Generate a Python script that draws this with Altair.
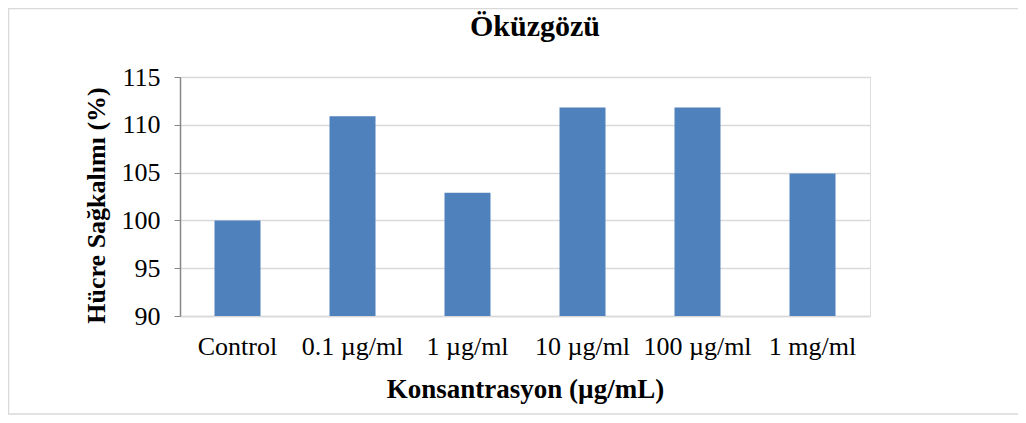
import altair as alt
import pandas as pd

categories = ["Control", "0.1 µg/ml", "1 µg/ml", "10 µg/ml", "100 µg/ml", "1 mg/ml"]
values = [100.0, 110.9, 102.9, 111.8, 111.8, 104.9]
y_ticks = [90, 95, 100, 105, 110, 115]
chart_title = "Öküzgözü"

df = pd.DataFrame({"cat": categories, "val": values})

FONT = "Liberation Serif"
W, H = 690, 239

bars = alt.Chart(df).mark_bar(color="#4F81BD", clip=True).encode(
    x=alt.X(
        "cat:N",
        sort=categories,
        scale=alt.Scale(paddingInner=0.6, paddingOuter=0.3),
        axis=alt.Axis(
            title="Konsantrasyon (µg/mL)",
            labelAngle=0,
            labelFont=FONT,
            labelFontSize=26,
            labelColor="#000000",
            labelPadding=17,
            labelBaseline="top",
            ticks=False,
            domainColor="#D9D9D9",
            domainWidth=1.5,
            titleFont=FONT,
            titleFontSize=27,
            titleFontWeight="bold",
            titleColor="#000000",
            titleBaseline="alphabetic",
            titleY=81,
        ),
    ),
    y=alt.Y(
        "val:Q",
        scale=alt.Scale(domain=[90, 115], zero=False, nice=False),
        axis=alt.Axis(
            title="Hücre Sağkalımı (%)",
            values=y_ticks,
            labelFont=FONT,
            labelFontSize=26,
            labelColor="#000000",
            labelPadding=14,
            tickSize=6,
            tickColor="#868686",
            domainColor="#868686",
            domainWidth=1.5,
            gridColor="#D9D9D9",
            gridWidth=1.5,
            titleFont=FONT,
            titleFontSize=26,
            titleFontWeight="bold",
            titleColor="#000000",
            titleAngle=-90,
            titleX=-84,
            titleY=128,
            titleBaseline="middle",
            titleAlign="center",
        ),
    ),
    y2=alt.datum(90),
)

frame = alt.Chart(pd.DataFrame({"a": [0]})).mark_rect(
    fill=None, stroke="#D9D9D9", strokeWidth=1.5
).encode(
    x=alt.value(-171.5),
    x2=alt.value(860),
    y=alt.value(-68.5),
    y2=alt.value(337),
)

title_text = alt.Chart(pd.DataFrame({"t": [chart_title]})).mark_text(
    font=FONT, fontSize=30, fontWeight="bold", color="#000000",
    align="center", baseline="alphabetic",
).encode(
    text="t:N",
    x=alt.value(W / 2 + 10),
    y=alt.value(-41),
)

chart = alt.layer(frame, bars, title_text).properties(
    width=W,
    height=H,
    autosize=alt.AutoSizeParams(type="none"),
    padding={"left": 172, "top": 69, "right": 148, "bottom": 99},
).configure_view(stroke=None).configure(background="#FFFFFF")

chart.save("out.html", embed_options={"renderer": "svg", "actions": False})
